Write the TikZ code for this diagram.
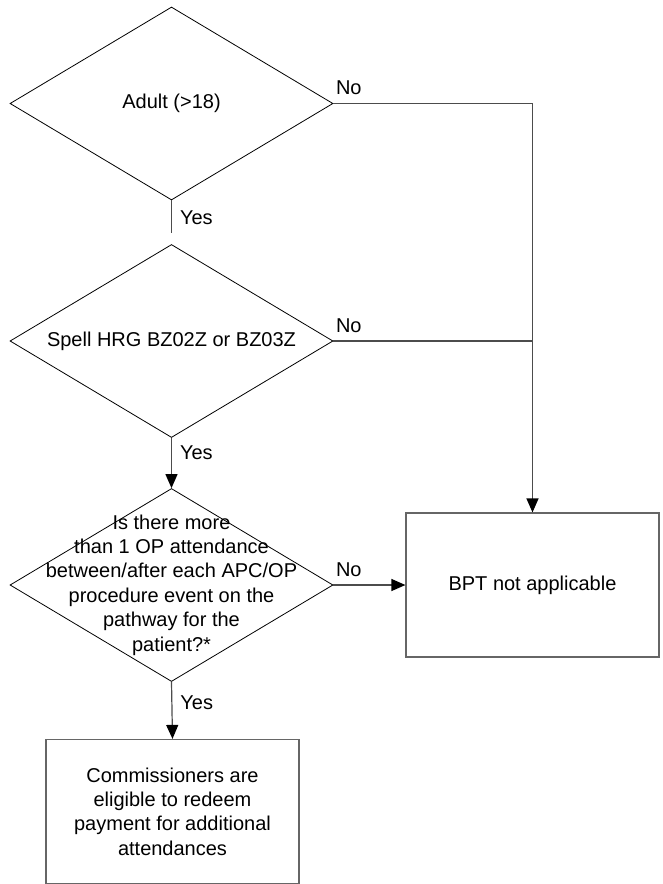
\documentclass[tikz,border=0pt]{standalone}
\usepackage{fontspec}
\setmainfont{Liberation Sans}
\usetikzlibrary{arrows.meta, shapes.geometric, positioning}

\begin{document}
\begin{tikzpicture}[
    x=0.5pt, y=-0.5pt,
    every node/.style={font=\fontsize{10}{12.2}\selectfont},
    decision/.style={draw=black, line width=0.4pt, diamond, inner sep=0pt,
                     minimum width=161.5pt, minimum height=96.5pt},
    outbox/.style={draw=black!60, line width=0.6pt, rectangle, align=center,
                   minimum width=126.5pt, minimum height=72pt},
    arr/.style={-{Triangle[length=7pt,width=6pt,color=black]}, draw=black!70, line width=0.6pt},
    line/.style={draw=black!70, line width=0.6pt},
    yeslbl/.style={right=2pt, inner sep=2pt},
    nolbl/.style={pos=0, anchor=south west, inner sep=0pt, xshift=1pt, yshift=4pt}
  ]
  \useasboundingbox (0,0) rectangle (663,884);

  % decisions
  \node[decision] (adult) at (171.5,103.5) {};
  \node (adulttxt) at (adult) {Adult (>18)};
  \node[decision] (spell) at (171.5,341) {};
  \node (spelltxt) at (spell) {Spell HRG BZ02Z or BZ03Z};
  \node[decision] (question) at (171.5,585) {};
  \node[align=center] (questiontxt) at (question) {Is there more\\than 1 OP attendance\\between/after each APC/OP\\procedure event on the\\pathway for the\\patient?*};

  % outcomes
  \node[outbox] (bpt) at (532.5,585) {BPT not applicable};
  \node[outbox] (pay) at (172.5,811.5) {Commissioners are\\eligible to redeem\\payment for additional\\attendances};

  % connectors
  \coordinate (stub) at (171.5,233);
  \coordinate (corner) at (bpt.north |- adult.east);
  \coordinate (join) at (bpt.north |- spell.east);
  \draw[line] (adult.south) -- node[yeslbl, pos=0.53] {Yes} (stub);
  \draw[arr] (adult.east) -- node[nolbl] {No} (corner) -- (bpt.north);
  \draw[line] (spell.east) -- node[nolbl] {No} (join);
  \draw[arr] (spell.south) -- node[yeslbl, pos=0.29] {Yes} (question.north);
  \draw[arr] (question.east) -- node[nolbl] {No} (bpt.west);
  \draw[arr] (question.south) -- node[yeslbl, pos=0.36] {Yes} (pay.north);
\end{tikzpicture}
\end{document}
